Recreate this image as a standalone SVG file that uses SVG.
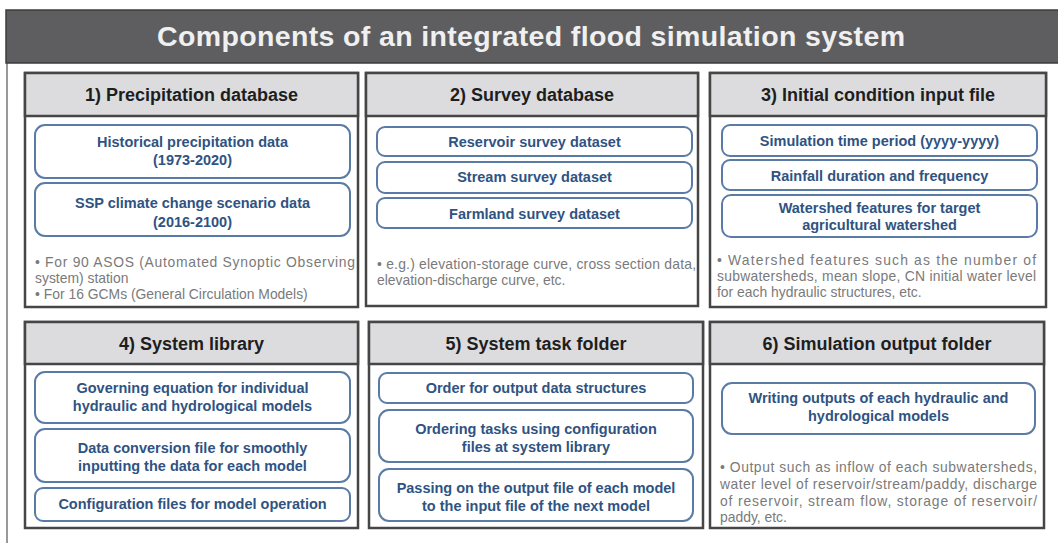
<svg xmlns="http://www.w3.org/2000/svg" width="1058" height="543" viewBox="0 0 1058 543">
  <style>
    .title { font-family: "Liberation Sans", Arial, sans-serif; font-weight: bold; font-size: 28.5px; fill: #f0f0f0; }
    .panel { fill: #ffffff; stroke: #464646; stroke-width: 2.5; }
    .head { fill: #dcdcde; stroke: #464646; stroke-width: 2.5; }
    .htxt { font-family: "Liberation Sans", Arial, sans-serif; font-weight: bold; font-size: 18px; fill: #1e1e1e; text-anchor: middle; }
    .box { fill: #ffffff; stroke: #5a7ba6; stroke-width: 2; }
    .btxt { font-family: "Liberation Sans", Arial, sans-serif; font-weight: bold; font-size: 14.5px; fill: #2f5382; text-anchor: middle; }
    .note { font-family: "Liberation Sans", Arial, sans-serif; font-size: 13.9px; fill: #7a7a7a; }
  </style>

  <!-- page frame and title bar -->
  <line x1="7" y1="63" x2="7" y2="543" stroke="#555555" stroke-width="1.2"/>
  <rect x="6" y="10" width="1060" height="53" fill="#5e5e61" stroke="#3c3c3c" stroke-width="1.5"/>
  <text class="title" x="157" y="46" textLength="748" lengthAdjust="spacing">Components of an integrated flood simulation system</text>

  <!-- 1) Precipitation database -->
  <g id="precipitation-database">
    <rect class="panel" x="25" y="73" width="333" height="234"/>
    <rect class="head" x="25" y="73" width="333" height="43"/>
    <text class="htxt" x="191.5" y="101">1) Precipitation database</text>
    <rect class="box" x="35" y="125" width="315" height="53" rx="10"/>
    <text class="btxt" x="192.5" y="147">Historical precipitation data</text>
    <text class="btxt" x="192.5" y="165">(1973-2020)</text>
    <rect class="box" x="35" y="183" width="315" height="53" rx="10"/>
    <text class="btxt" x="192.5" y="208">SSP climate change scenario data</text>
    <text class="btxt" x="192.5" y="227">(2016-2100)</text>
    <text class="note" x="35" y="267" textLength="320" lengthAdjust="spacing">• For 90 ASOS (Automated Synoptic Observing</text>
    <text class="note" x="35" y="283">system) station</text>
    <text class="note" x="35" y="299">• For 16 GCMs (General Circulation Models)</text>
  </g>

  <!-- 2) Survey database -->
  <g id="survey-database">
    <rect class="panel" x="366" y="73" width="332" height="233"/>
    <rect class="head" x="366" y="73" width="332" height="43"/>
    <text class="htxt" x="532" y="101">2) Survey database</text>
    <rect class="box" x="377" y="127" width="315" height="29" rx="8"/>
    <text class="btxt" x="534.5" y="147">Reservoir survey dataset</text>
    <rect class="box" x="377" y="162" width="315" height="31" rx="8"/>
    <text class="btxt" x="534.5" y="182">Stream survey dataset</text>
    <rect class="box" x="377" y="198" width="315" height="30" rx="8"/>
    <text class="btxt" x="534.5" y="219">Farmland survey dataset</text>
    <text class="note" x="377" y="269" textLength="319" lengthAdjust="spacing">• e.g.) elevation-storage curve, cross section data,</text>
    <text class="note" x="377" y="285">elevation-discharge curve, etc.</text>
  </g>

  <!-- 3) Initial condition input file -->
  <g id="initial-condition-input">
    <rect class="panel" x="710" y="73" width="336" height="234"/>
    <rect class="head" x="710" y="73" width="336" height="43"/>
    <text class="htxt" x="878" y="101">3) Initial condition input file</text>
    <rect class="box" x="722" y="125" width="315" height="31" rx="8"/>
    <text class="btxt" x="879.5" y="146">Simulation time period (yyyy-yyyy)</text>
    <rect class="box" x="722" y="160" width="315" height="30" rx="8"/>
    <text class="btxt" x="879.5" y="181">Rainfall duration and frequency</text>
    <rect class="box" x="722" y="195" width="315" height="42" rx="9"/>
    <text class="btxt" x="879.5" y="213">Watershed features for target</text>
    <text class="btxt" x="879.5" y="230">agricultural watershed</text>
    <text class="note" x="717" y="265" textLength="319" lengthAdjust="spacing">• Watershed features such as the number of</text>
    <text class="note" x="717" y="281" textLength="319" lengthAdjust="spacing">subwatersheds, mean slope, CN initial water level</text>
    <text class="note" x="717" y="297">for each hydraulic structures, etc.</text>
  </g>

  <!-- 4) System library -->
  <g id="system-library">
    <rect class="panel" x="25" y="322" width="333" height="206"/>
    <rect class="head" x="25" y="322" width="333" height="42"/>
    <text class="htxt" x="191.5" y="350">4) System library</text>
    <rect class="box" x="35" y="372" width="315" height="51" rx="10"/>
    <text class="btxt" x="192.5" y="393">Governing equation for individual</text>
    <text class="btxt" x="192.5" y="411">hydraulic and hydrological models</text>
    <rect class="box" x="35" y="429" width="315" height="53" rx="10"/>
    <text class="btxt" x="192.5" y="453">Data conversion file for smoothly</text>
    <text class="btxt" x="192.5" y="471">inputting the data for each model</text>
    <rect class="box" x="35" y="488" width="315" height="33" rx="8"/>
    <text class="btxt" x="192.5" y="509">Configuration files for model operation</text>
  </g>

  <!-- 5) System task folder -->
  <g id="system-task-folder">
    <rect class="panel" x="369" y="322" width="334" height="206"/>
    <rect class="head" x="369" y="322" width="334" height="42"/>
    <text class="htxt" x="536" y="350">5) System task folder</text>
    <rect class="box" x="379" y="373" width="314" height="30" rx="8"/>
    <text class="btxt" x="536" y="393">Order for output data structures</text>
    <rect class="box" x="379" y="410" width="314" height="52" rx="10"/>
    <text class="btxt" x="536" y="434">Ordering tasks using configuration</text>
    <text class="btxt" x="536" y="452">files at system library</text>
    <rect class="box" x="379" y="469" width="314" height="52" rx="10"/>
    <text class="btxt" x="536" y="493">Passing on the output file of each model</text>
    <text class="btxt" x="536" y="511">to the input file of the next model</text>
  </g>

  <!-- 6) Simulation output folder -->
  <g id="simulation-output-folder">
    <rect class="panel" x="710" y="322" width="334" height="206"/>
    <rect class="head" x="710" y="322" width="334" height="42"/>
    <text class="htxt" x="877" y="350">6) Simulation output folder</text>
    <rect class="box" x="722" y="383" width="313" height="51" rx="10"/>
    <text class="btxt" x="878.5" y="403">Writing outputs of each hydraulic and</text>
    <text class="btxt" x="878.5" y="421">hydrological models</text>
    <text class="note" x="720" y="472" textLength="317" lengthAdjust="spacing">• Output such as inflow of each subwatersheds,</text>
    <text class="note" x="720" y="489" textLength="317" lengthAdjust="spacing">water level of reservoir/stream/paddy, discharge</text>
    <text class="note" x="720" y="506" textLength="317" lengthAdjust="spacing">of reservoir, stream flow, storage of reservoir/</text>
    <text class="note" x="720" y="522">paddy, etc.</text>
  </g>
</svg>
